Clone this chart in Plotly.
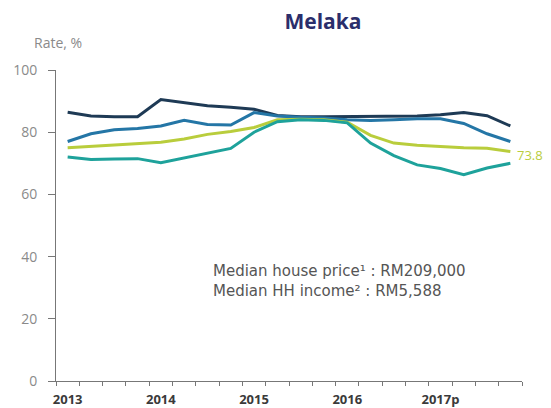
import plotly.graph_objects as go

# Quarterly points 2013 Q1 .. 2017 Q4 (x index 0..19)
quarters = list(range(20))
year_labels = ["2013", "2014", "2015", "2016", "2017p"]
year_positions = [0, 4, 8, 12, 16]

navy = [86.4, 85.2, 85.0, 85.0, 90.5, 89.5, 88.5, 88.0, 87.4, 85.4,
        85.0, 85.0, 85.0, 85.0, 85.0, 85.2, 85.6, 86.3, 85.3, 82.0]
blue = [77.0, 79.5, 80.8, 81.2, 82.0, 83.8, 82.5, 82.3, 86.3, 85.2,
        84.8, 84.6, 84.0, 83.8, 84.0, 84.3, 84.3, 82.8, 79.5, 77.0]
lime = [75.0, 75.5, 76.0, 76.3, 76.8, 77.8, 79.3, 80.2, 81.5, 84.0,
        84.2, 84.0, 83.2, 79.0, 76.5, 75.8, 75.3, 75.0, 74.8, 73.8]
teal = [72.0, 71.2, 71.4, 71.5, 70.2, 71.8, 73.2, 74.8, 80.0, 83.4,
        84.0, 83.8, 83.0, 76.5, 72.5, 69.5, 68.3, 66.3, 68.5, 70.0]

y_ticks = [0, 20, 40, 60, 80, 100]

title_text = "Melaka"
y_title = "Rate, %"
note_lines = ["Median house price¹ : RM209,000", "Median HH income² : RM5,588"]

series = [
    (navy, "#1e3a55"),
    (blue, "#2476a6"),
    (lime, "#b9cd3c"),
    (teal, "#1ea29b"),
]

fig = go.Figure()
for vals, col in series:
    fig.add_trace(go.Scatter(x=quarters, y=vals, mode="lines",
                             line=dict(color=col, width=3),
                             showlegend=False, hoverinfo="skip"))

L, R, T, B = 56, 29, 70, 27
W, H = 551, 408
pw, ph = W - L - R, H - T - B

fig.update_layout(
    width=W, height=H,
    margin=dict(l=L, r=R, t=T, b=B, autoexpand=False),
    paper_bgcolor="white", plot_bgcolor="white",
    font=dict(family="Open Sans", color="#555"),
    title=dict(text=f"<b>{title_text}</b>", x=323 / W, xanchor="center",
               y=1 - 22 / H, yanchor="middle",
               font=dict(size=21, color="#2b2e6b", family="Open Sans")),
    xaxis=dict(range=[-0.5, 19.5], showgrid=False, zeroline=False,
               automargin=False,
               showline=True, linecolor="#777", linewidth=1,
               tickmode="array", tickvals=year_positions,
               ticktext=[f"<b>{t}</b>" for t in year_labels],
               ticks="", ticklabelstandoff=6,
               tickfont=dict(size=13, color="#3a3a3a", family="Open Sans"),
               minor=dict(tickmode="array",
                          tickvals=[i - 0.5 for i in range(21)],
                          ticks="outside", ticklen=4, tickcolor="#777",
                          showgrid=False)),
    yaxis=dict(range=[0, 100], showgrid=False, zeroline=False,
               automargin=False,
               showline=True, linecolor="#777", linewidth=1,
               tickmode="array", tickvals=y_ticks,
               ticks="outside", ticklen=7, tickcolor="#777",
               ticklabelstandoff=8,
               tickfont=dict(size=14, color="#8a8a8a", family="Open Sans")),
)

# axis caption
fig.add_annotation(text=y_title, xref="paper", yref="paper",
                   x=(32 - L) / pw, y=(H - B - 42) / ph,
                   xanchor="left", yanchor="middle", showarrow=False,
                   font=dict(size=14, color="#8a8a8a", family="Open Sans"))

# notes (one text block, two lines)
fig.add_annotation(text="<br>".join(note_lines), xref="paper", yref="paper",
                   x=(211 - L) / pw, y=(H - B - 281) / ph,
                   xanchor="left", yanchor="middle", align="left",
                   showarrow=False,
                   font=dict(size=15, color="#555", family="DejaVu Sans"))

# end label of lime series
fig.add_annotation(text=f"{lime[-1]}", x=quarters[-1], y=lime[-1],
                   xanchor="left", yanchor="middle", xshift=5, yshift=-4,
                   showarrow=False,
                   font=dict(size=13, color="#b9cd3c", family="Open Sans"))

fig.write_html("out.html", config={"displayModeBar": False},
               post_script="document.body.style.margin='0';")
